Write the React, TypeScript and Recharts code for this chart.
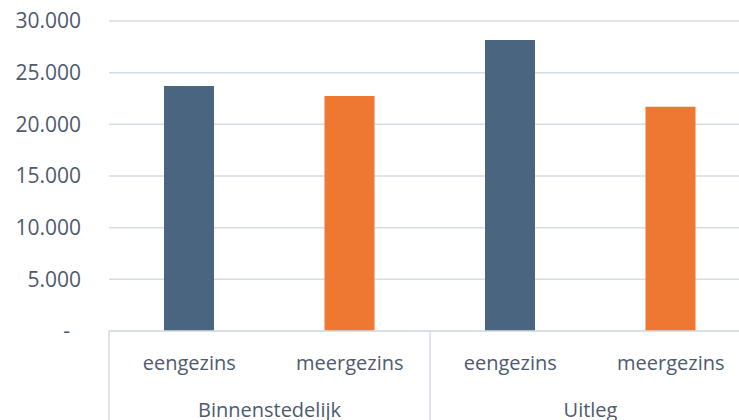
import React from 'react';
import { BarChart, Bar, XAxis, YAxis, CartesianGrid, Cell } from 'recharts';

const categories = ['eengezins', 'meergezins', 'eengezins', 'meergezins'];
const groups = ['Binnenstedelijk', 'Uitleg'];
const values = [23700, 22750, 28150, 21700];
const yTicks = [0, 5000, 10000, 15000, 20000, 25000, 30000];

const colors: Record<string, string> = {
    eengezins: '#4A6580',
    meergezins: '#EE7732',
};

const data = categories.map((name, i) => ({
    name,
    group: groups[Math.floor(i / 2)],
    value: values[i],
}));

const textColor = '#4E5A6E';
const gridColor = '#D6DCE4';
const fontFamily = '"Open Sans", sans-serif';

const formatNumber = (v: number) => (v === 0 ? '-' : String(v).replace(/\B(?=(\d{3})+(?!\d))/g, '.'));

const YTick = (props: any) => {
    const { x, y, payload } = props;
    const v = payload.value;
    return (
        <text
            x={v === 0 ? x - 11 : x}
            y={y}
            dy="0.35em"
            textAnchor="end"
            fill={textColor}
            fontSize={21}
            fontFamily={fontFamily}
        >
            {formatNumber(v)}
        </text>
    );
};

const XTick = (props: any) => {
    const { x, y, payload, index, width } = props;
    const band = width / categories.length;
    const isFirst = index % 2 === 0;
    return (
        <g>
            <text x={x} y={y + 39} textAnchor="middle" fill={textColor} fontSize={20} fontFamily={fontFamily}>
                {payload.value}
            </text>
            {isFirst && (
                <>
                    <line x1={x - band / 2} y1={y} x2={x - band / 2} y2={y + 95} stroke={gridColor} strokeWidth={1.5} />
                    <text x={x + band / 2} y={y + 86} textAnchor="middle" fill={textColor} fontSize={20} fontFamily={fontFamily}>
                        {groups[index / 2]}
                    </text>
                </>
            )}
            {index === categories.length - 1 && (
                <line x1={x + band / 2} y1={y} x2={x + band / 2} y2={y + 95} stroke={gridColor} strokeWidth={1.5} />
            )}
        </g>
    );
};

const App = () => {
    return (
        <div style={{ position: 'absolute', left: 0, top: 0, width: 739, height: 420, overflow: 'hidden', background: '#fff' }}>
            <BarChart
                width={760}
                height={420}
                data={data}
                margin={{ top: 21, right: 9, left: 0, bottom: 0 }}
                barSize={50}
            >
                <CartesianGrid vertical={false} stroke={gridColor} strokeWidth={1.5} />
                <XAxis
                    dataKey="name"
                    height={89}
                    axisLine={{ stroke: gridColor, strokeWidth: 1.5 }}
                    tickLine={false}
                    tickSize={0}
                    tickMargin={0}
                    interval={0}
                    tick={<XTick />}
                />
                <YAxis
                    width={109}
                    domain={[0, 30000]}
                    ticks={yTicks}
                    axisLine={false}
                    tickLine={false}
                    tickSize={0}
                    tickMargin={28}
                    tick={<YTick />}
                />
                <Bar dataKey="value" isAnimationActive={false}>
                    {data.map((d, i) => (
                        <Cell key={i} fill={colors[d.name]} />
                    ))}
                </Bar>
            </BarChart>
        </div>
    );
};

export default App;
